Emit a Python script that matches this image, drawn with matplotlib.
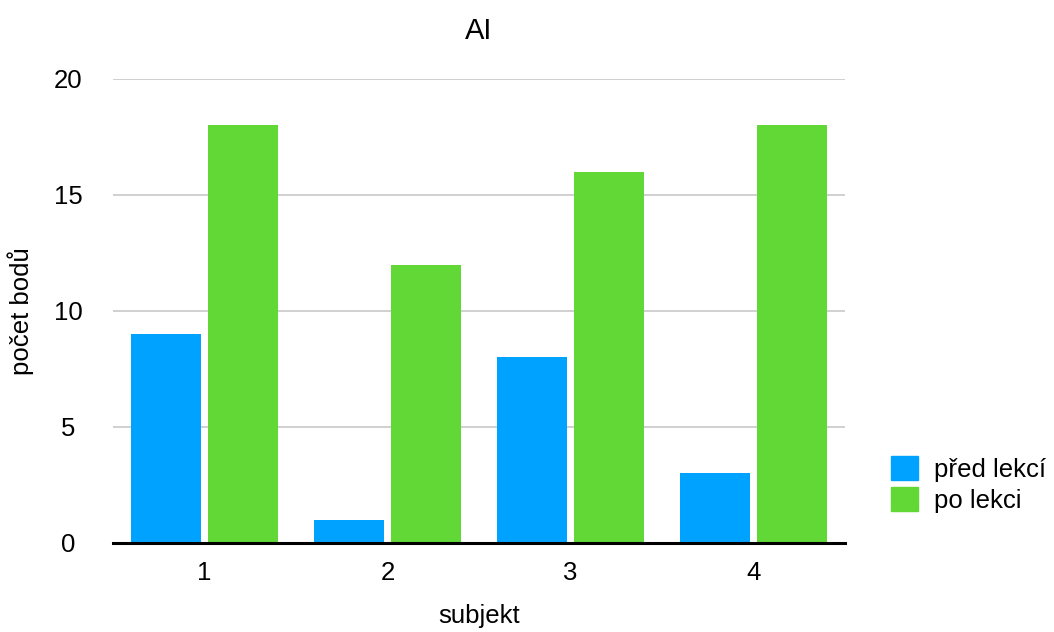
import matplotlib
matplotlib.use("Agg")
import matplotlib.pyplot as plt
import numpy as np
from matplotlib.patches import Patch

categories = ["1", "2", "3", "4"]
pred_lekci = [9, 1, 8, 3]
po_lekci = [18, 12, 16, 18]
series_names = ["před lekcí", "po lekci"]
colors = ["#00A2FF", "#61D836"]

plt.rcParams['font.family'] = ['Liberation Sans', 'DejaVu Sans']

fig = plt.figure(figsize=(10.54, 6.32), dpi=100)
ax = fig.add_axes([113/1054, 1-543/632, (845-113)/1054, (543-79)/632])

x = np.arange(len(categories))
w = 0.383
off = 0.21
ax.bar(x - off, pred_lekci, width=w, color=colors[0], zorder=3)
ax.bar(x + off, po_lekci, width=w, color=colors[1], zorder=3)

ax.set_xlim(-0.5, len(categories) - 0.5)
ax.set_ylim(0, 20)
ax.set_yticks([0, 5, 10, 15, 20])
ax.set_xticks(x)
ax.set_xticklabels(categories)
ax.yaxis.grid(True, color="#c8c8c8", linewidth=1.2, zorder=0)
ax.set_axisbelow(True)
for s in ["top", "right", "left"]:
    ax.spines[s].set_visible(False)
ax.spines["bottom"].set_linewidth(2.2)
ax.spines["bottom"].set_color("black")
ax.spines["bottom"].set_zorder(4)
ax.tick_params(axis="both", length=0, labelsize=18.5)
ax.tick_params(axis="y", pad=32)
ax.tick_params(axis="x", pad=13)
for lbl in ax.get_yticklabels():
    lbl.set_horizontalalignment("center")

ax.set_title("AI", fontsize=21, pad=29)
ax.set_xlabel("subjekt", fontsize=18.5)
ax.set_ylabel("počet bodů", fontsize=18.5)
ax.xaxis.set_label_coords(0.5, -(604 - 543) / 464)
ax.yaxis.set_label_coords((34 - 113) / 732, 0.5)

handles = [Patch(color=c) for c in colors]
fig.legend(handles, series_names, loc="upper left", bbox_to_anchor=(868/1054, 1-433/632),
           frameon=False, fontsize=18.5, handlelength=1.05, handleheight=1.05,
           handletextpad=0.6, labelspacing=0.2)

fig.savefig("out.png", dpi=100)
